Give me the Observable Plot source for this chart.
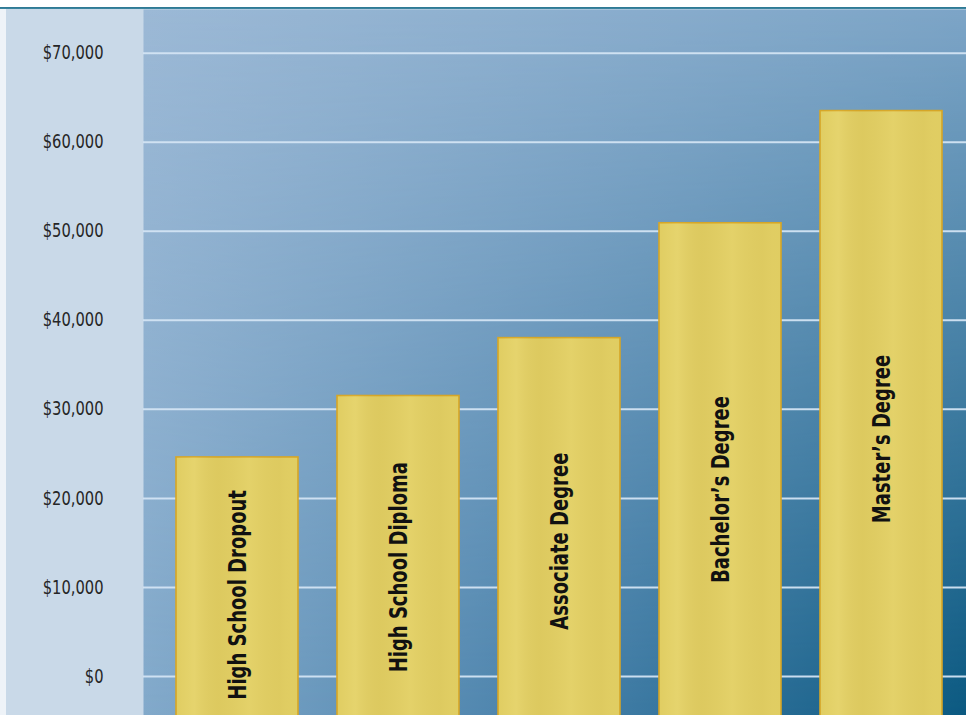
<!DOCTYPE html>
<html>
<head>
<meta charset="utf-8">
<script src="https://cdn.jsdelivr.net/npm/d3@7"></script>
<script src="https://cdn.jsdelivr.net/npm/@observablehq/plot@0.6"></script>
<style>
  html, body { margin: 0; padding: 0; background: #ffffff; overflow: hidden; }
  #chart svg { display: block; }
</style>
</head>
<body>
<div id="chart"></div>
<script>
// ---- data ----
const degrees = ["High School Dropout", "High School Diploma", "Associate Degree", "Bachelor’s Degree", "Master’s Degree"];
const earnings = [24600, 31500, 38000, 50900, 63500];
const yTicks = [0, 10000, 20000, 30000, 40000, 50000, 60000, 70000];

const data = degrees.map((d, i) => ({degree: d, value: earnings[i]}));

const FONT = "'Liberation Sans Narrow', 'DejaVu Sans Condensed', 'Roboto', sans-serif";
const barFloor = -6000; // bars run past the $0 line to the bottom edge (clipped)

const chart = Plot.plot({
  width: 966,
  height: 715,
  marginLeft: 143,
  marginRight: 0,
  marginTop: 9,
  marginBottom: 0,
  style: {
    fontFamily: FONT,
    background: "linear-gradient(to bottom, #ffffff 0px, #ffffff 7px, #2c7591 7px, #3d88a2 9px, transparent 9px), linear-gradient(to right, #eef3f8 0px, #eef3f8 6px, #c9d9e8 6px, #c9d9e8 100%)",
    overflow: "hidden"
  },
  x: {domain: degrees, range: [135.8, 982.5], padding: 0.2427, axis: null},
  y: {domain: [0, 70000], range: [676, 52.7], axis: null},
  marks: [
    Plot.frame({fill: "url(#bgTop)", stroke: "none"}),
    Plot.frame({fill: "url(#bgBottom)", stroke: "none", className: "bgbottom"}),
    Plot.gridY(yTicks, {stroke: "#d3e4f3", strokeWidth: 2, strokeOpacity: 0.95}),
    Plot.axisY(yTicks, {
      anchor: "left",
      label: null,
      tickSize: 0,
      tickPadding: 40,
      tickFormat: d => "$" + d3.format(",")(d),
      fontSize: 19,
      fill: "#262626"
    }),
    Plot.barY(data, {
      x: "degree",
      y1: () => barFloor,
      y2: "value",
      fill: "#e0cd62",
      stroke: "#d6a626",
      strokeWidth: 1.6,
      clip: true
    }),
    Plot.barY(data, {
      x: "degree",
      y1: () => barFloor,
      y2: "value",
      fill: "url(#barShade)",
      clip: true
    }),
    Plot.text(data, {
      x: "degree",
      y: d => 0.45 * d.value - 1900,
      text: "degree",
      rotate: -90,
      fontSize: 25,
      fontWeight: "bold",
      fill: "#111111",
      textAnchor: "middle",
      className: "barlabel"
    })
  ]
});

// gradients used by the background frames and bars
const ns = "http://www.w3.org/2000/svg";
const defs = document.createElementNS(ns, "defs");
defs.innerHTML = `
  <linearGradient id="bgTop" x1="0" y1="0" x2="1" y2="0">
    <stop offset="0" stop-color="#9cb9d6"/>
    <stop offset="1" stop-color="#7da5c7"/>
  </linearGradient>
  <linearGradient id="bgBottom" x1="0" y1="0" x2="1" y2="0">
    <stop offset="0" stop-color="#82a9ca"/>
    <stop offset="0.5" stop-color="#4780a9"/>
    <stop offset="1" stop-color="#0b5981"/>
  </linearGradient>
  <linearGradient id="vfade" x1="0" y1="0" x2="0" y2="1">
    <stop offset="0" stop-color="#000"/>
    <stop offset="1" stop-color="#fff"/>
  </linearGradient>
  <mask id="vmask" maskContentUnits="objectBoundingBox">
    <rect x="0" y="0" width="1" height="1" fill="url(#vfade)"/>
  </mask>
  <linearGradient id="barShade" x1="0" y1="0" x2="1" y2="0">
    <stop offset="0" stop-color="#fff6a0" stop-opacity="0.0"/>
    <stop offset="0.15" stop-color="#fff3a0" stop-opacity="0.18"/>
    <stop offset="0.35" stop-color="#b8a040" stop-opacity="0.08"/>
    <stop offset="0.6" stop-color="#fff3a0" stop-opacity="0.12"/>
    <stop offset="0.85" stop-color="#b8a040" stop-opacity="0.06"/>
    <stop offset="1" stop-color="#fff3a0" stop-opacity="0.0"/>
  </linearGradient>`;
chart.insertBefore(defs, chart.firstChild);
const bottomFrame = chart.querySelector(".bgbottom rect") || chart.querySelector("rect.bgbottom") || chart.querySelector(".bgbottom");
if (bottomFrame) bottomFrame.setAttribute("mask", "url(#vmask)");

document.getElementById("chart").appendChild(chart);

// condense the text to imitate the narrow typeface of the original
function condense(selector, factor) {
  chart.querySelectorAll(selector).forEach(t => {
    const len = t.getComputedTextLength();
    if (len > 0) {
      t.setAttribute("textLength", (len * factor).toFixed(1));
      t.setAttribute("lengthAdjust", "spacingAndGlyphs");
    }
  });
}
condense(".barlabel text", 0.80);
condense('g[aria-label="y-axis tick label"] text', 0.86);
</script>
</body>
</html>
